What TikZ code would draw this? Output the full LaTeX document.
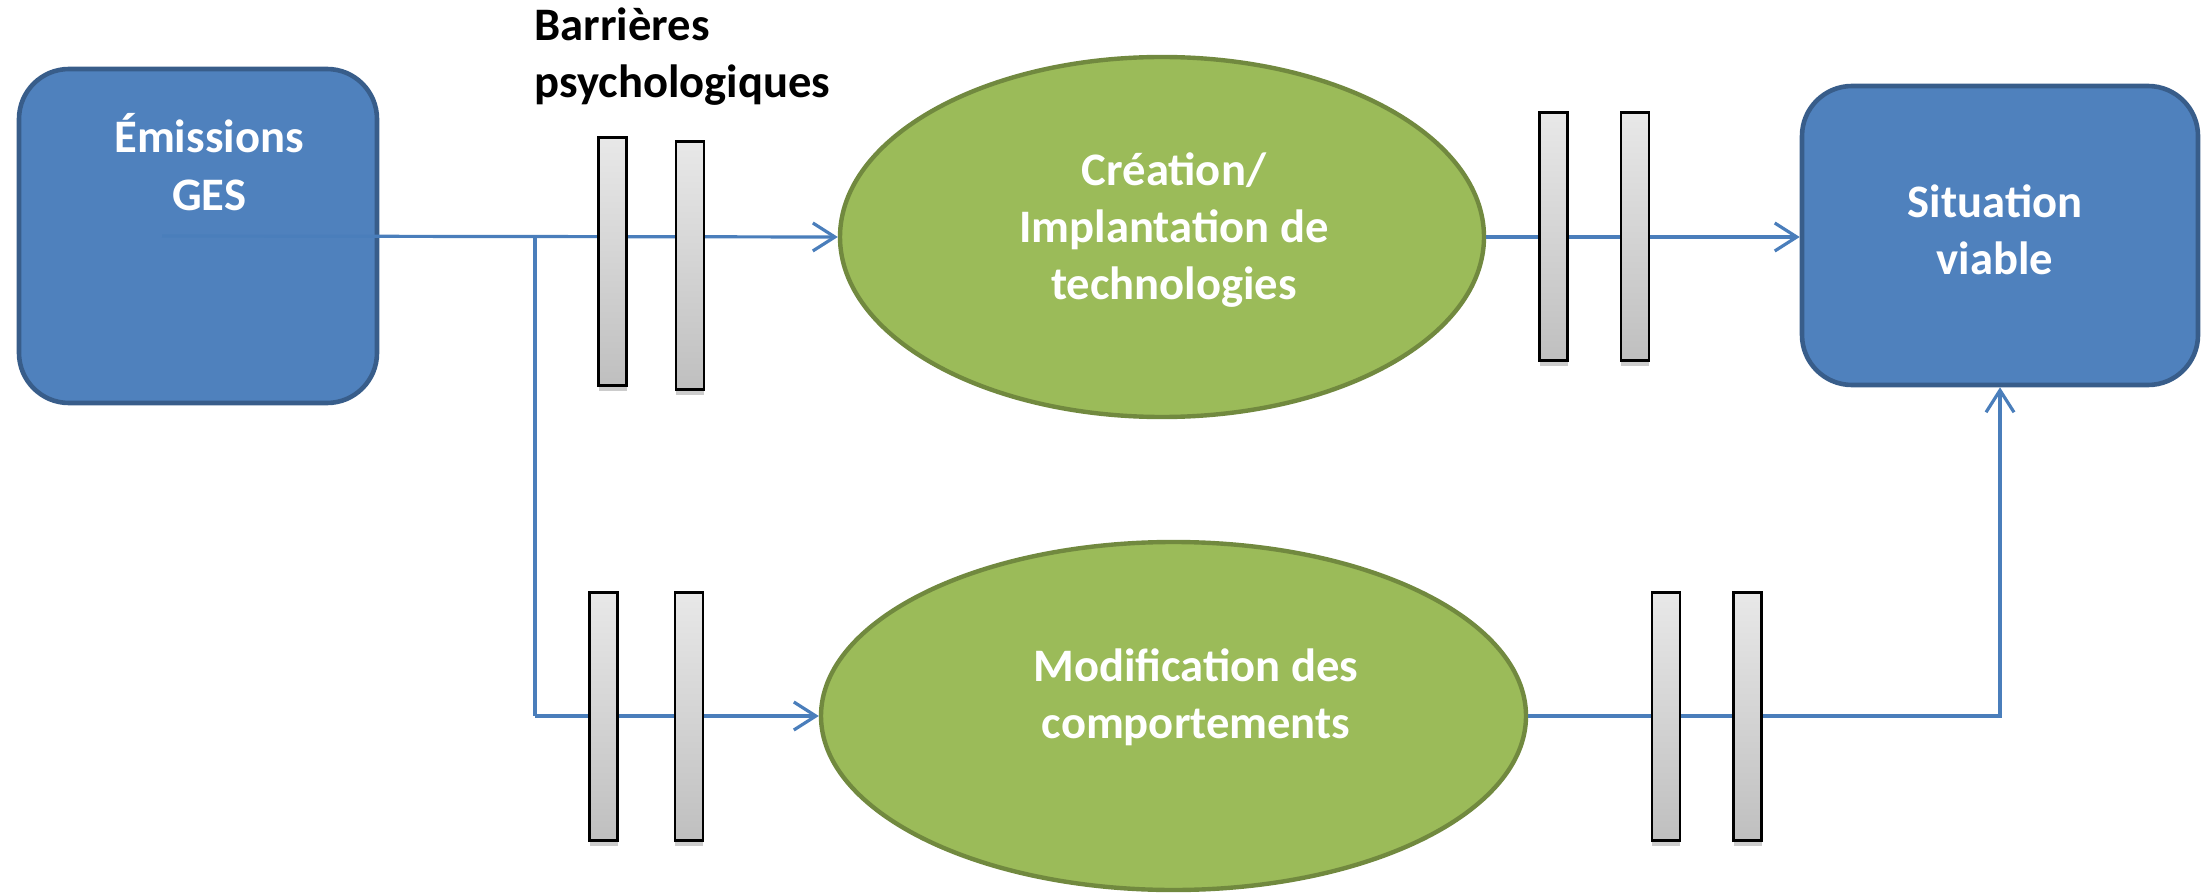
\documentclass[tikz,border=0pt]{standalone}
\usepackage{fontspec}
\setmainfont{Carlito}
\usetikzlibrary{arrows.meta,shapes.geometric,shadows}
\definecolor{boxblue}{RGB}{79,129,189}
\definecolor{boxborder}{RGB}{56,93,138}
\definecolor{ellgreen}{RGB}{155,187,89}
\definecolor{ellborder}{RGB}{113,137,63}
\definecolor{linkblue}{RGB}{74,126,187}
\begin{document}
\begin{tikzpicture}[x=0.5pt,y=-0.5pt,
  bluebox/.style={rectangle, draw=boxborder, fill=boxblue, line width=2.3pt, rounded corners=25pt, inner sep=0pt},
  greenell/.style={ellipse, draw=ellborder, fill=ellgreen, line width=2.2pt, inner sep=0pt},
  barbox/.style={rectangle, draw=black, line width=1.4pt, top color=gray!18, bottom color=gray!50, minimum width=14pt, minimum height=124pt, inner sep=0pt, drop shadow={shadow xshift=0pt, shadow yshift=-2.5pt, opacity=0.2, fill=black}},
  conn/.style={draw=linkblue, line width=1.6pt},
  arr/.style={conn, -{Straight Barb[length=11pt,width=14pt]}},
  wtext/.style={text=white, font=\bfseries\fontsize{23.3}{28.6}\selectfont, align=center, inner sep=0pt},
  btext/.style={text=black, font=\bfseries\fontsize{23.3}{28.6}\selectfont, align=left, inner sep=0pt}]
\useasboundingbox (0,0) rectangle (2211,893);
% shapes
\node[bluebox, minimum width=179pt, minimum height=167pt] (ges) at (198,236) {};
\node[bluebox, minimum width=198pt, minimum height=149.5pt] (sv) at (2000,235.5) {};
\node[greenell, minimum width=322pt, minimum height=180pt] (e1) at (1162,237) {};
\node[greenell, minimum width=352.5pt, minimum height=174pt] (e2) at (1173.5,716) {};
% texts
\node[wtext] (tE) at (209,162) {Émissions\\GES};
\node[wtext] (tC) at (1174,230) {Création/\\Implantation de\\technologies};
\node[wtext] (tS) at (1995,230) {Situation\\viable};
\node[wtext] (tM) at (1196,697) {Modification des\\comportements};
\node[btext, anchor=west] (tB) at (534,57) {Barrières\\psychologiques};
% connectors
\coordinate (start) at (162,236);
\coordinate (split) at (535,236);
\draw[arr] (start) -- (e1.west);
\draw[conn] (split) -- (split |- e2.west);
\draw[arr] (split |- e2.west) -- (e2.west);
\draw[arr] (e1.east) -- (e1.east -| sv.west);
\draw[arr] (e2.east) -| (sv.south);
% barriers
\node[barbox] (b1) at (612.5,261.5) {};
\node[barbox] (b2) at (690,265.5) {};
\node[barbox] (b3) at (1553.5,236.5) {};
\node[barbox] (b4) at (1635,236.5) {};
\node[barbox] (b5) at (603.5,716.5) {};
\node[barbox] (b6) at (689,716.5) {};
\node[barbox] (b7) at (1666,716.5) {};
\node[barbox] (b8) at (1747.5,716.5) {};
\end{tikzpicture}
\end{document}
